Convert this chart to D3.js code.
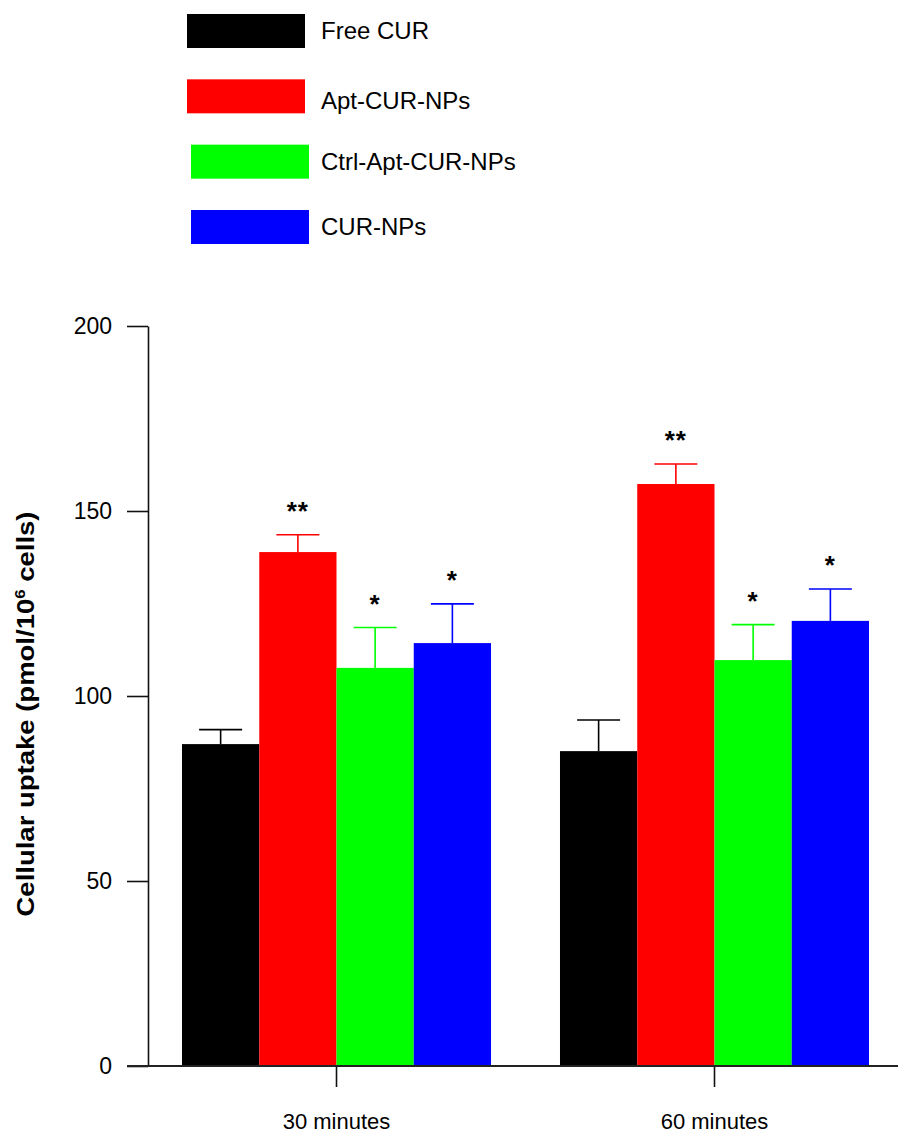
<!DOCTYPE html>
<html>
<head>
    <title>Cellular uptake</title>
    <script src="https://d3js.org/d3.v7.min.js"></script>
    <style>
        body { margin: 0; background: #fff; }
        text { font-family: Arial, "Liberation Sans", Helvetica, sans-serif; }
    </style>
</head>
<body>
    <div id="chart"></div>

    <script>
        // data
        const groups = ["30 minutes", "60 minutes"];
        const series = ["Free CUR", "Apt-CUR-NPs", "Ctrl-Apt-CUR-NPs", "CUR-NPs"];
        const colors = ["#000000", "#ff0000", "#00ff00", "#0000ff"];
        const means = [
            [87.0, 138.9, 107.6, 114.3],   // 30 minutes
            [85.1, 157.3, 109.7, 120.3]    // 60 minutes
        ];
        const errors = [
            [3.9, 4.7, 10.9, 10.6],
            [8.4, 5.4, 9.6, 8.6]
        ];
        const stars = [
            ["", "**", "*", "*"],
            ["", "**", "*", "*"]
        ];
        const yTicks = [0, 50, 100, 150, 200];

        const width = 898;
        const height = 1135;

        const svg = d3.select("#chart")
            .append("svg")
            .attr("width", width)
            .attr("height", height);

        // scales
        const y = d3.scaleLinear()
            .domain([0, 200])
            .range([1066, 326]);

        const x0 = d3.scaleBand()
            .domain(groups)
            .range([182, 869])
            .paddingInner(0.1825);

        const x1 = d3.scaleBand()
            .domain(series)
            .range([0, x0.bandwidth()]);

        const color = d3.scaleOrdinal().domain(series).range(colors);

        // flatten for drawing
        const rows = [];
        groups.forEach((g, gi) => {
            series.forEach((s, si) => {
                rows.push({ group: g, name: s, value: means[gi][si], err: errors[gi][si], star: stars[gi][si] });
            });
        });

        const cx = d => x0(d.group) + x1(d.name) + x1.bandwidth() / 2;

        // bars
        svg.append("g")
            .selectAll("rect")
            .data(rows)
            .join("rect")
            .attr("x", d => x0(d.group) + x1(d.name))
            .attr("y", d => y(d.value))
            .attr("width", x1.bandwidth())
            .attr("height", d => y(0) - y(d.value))
            .attr("fill", d => color(d.name));

        // error bars (upper only)
        const capW = 43;
        const eb = svg.append("g")
            .selectAll("g")
            .data(rows)
            .join("g")
            .attr("stroke", d => color(d.name))
            .attr("stroke-width", 1.6);

        eb.append("line")
            .attr("x1", cx)
            .attr("x2", cx)
            .attr("y1", d => y(d.value))
            .attr("y2", d => y(d.value + d.err));

        eb.append("line")
            .attr("x1", d => cx(d) - capW / 2)
            .attr("x2", d => cx(d) + capW / 2)
            .attr("y1", d => y(d.value + d.err))
            .attr("y2", d => y(d.value + d.err));

        // significance stars
        svg.append("g")
            .selectAll("text")
            .data(rows.filter(d => d.star))
            .join("text")
            .attr("x", cx)
            .attr("y", d => y(d.value + d.err + 8) + 15)
            .attr("text-anchor", "middle")
            .attr("font-size", 26)
            .attr("font-weight", "bold")
            .attr("letter-spacing", 1)
            .text(d => d.star);

        // y axis
        const yAxis = svg.append("g")
            .attr("transform", "translate(148,0)")
            .call(d3.axisLeft(y).tickValues(yTicks).tickSize(21).tickSizeOuter(0).tickPadding(15));
        yAxis.select(".domain").attr("stroke", "#111").attr("stroke-width", 1.6);
        yAxis.selectAll(".tick line").attr("stroke", "#111").attr("stroke-width", 1.6);
        yAxis.selectAll(".tick text")
            .attr("font-size", 23)
            .attr("font-family", "Arial, 'Liberation Sans', sans-serif")
            .attr("fill", "#000");

        // x axis
        const xAxis = svg.append("g")
            .attr("transform", "translate(0,1066)")
            .call(d3.axisBottom(x0).tickSize(21).tickPadding(26));
        xAxis.select(".domain").remove();
        xAxis.selectAll(".tick line").attr("stroke", "#111").attr("stroke-width", 1.6);
        xAxis.selectAll(".tick text")
            .attr("font-size", 22)
            .attr("font-family", "Arial, 'Liberation Sans', sans-serif")
            .attr("fill", "#000");

        svg.append("line")
            .attr("x1", 127)
            .attr("x2", 898)
            .attr("y1", y(0))
            .attr("y2", y(0))
            .attr("stroke", "#222")
            .attr("stroke-width", 2);

        // y title
        const yTitle = svg.append("text")
            .attr("transform", "translate(34,714) rotate(-90)")
            .attr("text-anchor", "middle")
            .attr("font-size", 23)
            .attr("font-weight", "bold")
            .attr("textLength", 405)
            .attr("lengthAdjust", "spacingAndGlyphs");
        yTitle.append("tspan").text("Cellular uptake (pmol/10");
        yTitle.append("tspan").attr("font-size", 14).attr("dy", -9).text("6");
        yTitle.append("tspan").attr("dy", 9).text(" cells)");

        // legend
        const legendY = d3.scalePoint()
            .domain(series)
            .range([14, 210]);
        const legendX = [187, 187, 191, 191];

        const legend = svg.append("g")
            .selectAll("g")
            .data(series)
            .join("g")
            .attr("transform", (d, i) => `translate(${legendX[i]},${legendY(d)})`);

        legend.append("rect")
            .attr("width", 118)
            .attr("height", 34)
            .attr("fill", d => color(d));

        legend.append("text")
            .attr("x", (d, i) => 321 - legendX[i])
            .attr("y", (d, i) => i === 1 ? 30 : 25)
            .attr("font-size", 24)
            .attr("fill", "#000")
            .text(d => d);
    </script>
</body>
</html>
